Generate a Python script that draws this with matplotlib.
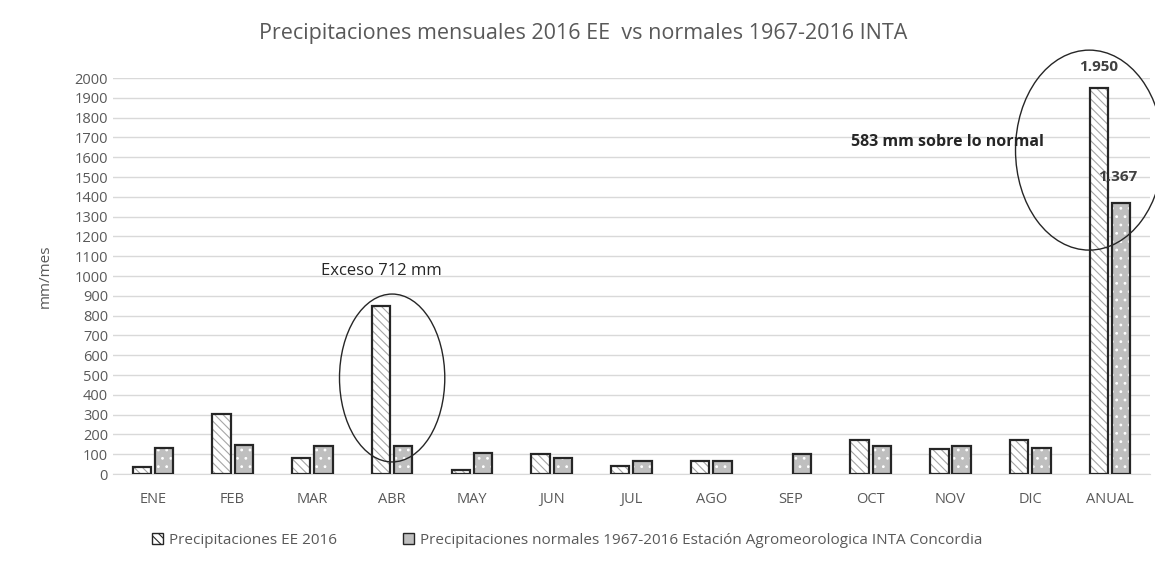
import matplotlib
matplotlib.use('Agg')
import matplotlib.pyplot as plt
from matplotlib.patches import Ellipse, Patch
import numpy as np

# Datos
meses = ['ENE', 'FEB', 'MAR', 'ABR', 'MAY', 'JUN', 'JUL', 'AGO', 'SEP', 'OCT', 'NOV', 'DIC', 'ANUAL']
lluvia_2016 = [34, 301, 82, 849, 19, 99, 42, 67, 0, 172, 125, 172, 1950]
lluvia_normal = [131, 148, 140, 140, 108, 82, 67, 67, 99, 140, 140, 131, 1367]

plt.rcParams['font.family'] = ['Open Sans', 'DejaVu Sans']
plt.rcParams['hatch.linewidth'] = 0.8

fig = plt.figure(figsize=(11.55, 5.66), dpi=100)
ax = fig.add_axes([0.0978, 0.1625, 0.8978, 0.6996])

x = np.arange(len(meses))
ancho = 0.23
sep = 0.025
x1 = x - ancho / 2 - sep
x2 = x + ancho / 2 + sep

# relleno con trama
ax.bar(x1, lluvia_2016, ancho, color='white', hatch='\\\\\\\\', edgecolor='#a6a6a6', linewidth=0, zorder=2)
ax.bar(x2, lluvia_normal, ancho, color='#bfbfbf', hatch='..', edgecolor='white', linewidth=0, zorder=2)
# contorno negro
b1 = ax.bar(x1, lluvia_2016, ancho, fill=False, edgecolor='#262626', linewidth=1.6, zorder=3)
ax.bar(x2, lluvia_normal, ancho, fill=False, edgecolor='#262626', linewidth=1.6, zorder=3)
for r, v in zip(b1, lluvia_2016):
    if v == 0:
        r.set_visible(False)

ax.set_xlim(-0.5, len(meses) - 0.5)
ax.set_ylim(0, 2000)
ax.set_yticks(range(0, 2001, 100))
ax.set_xticks(x)
ax.set_xticklabels(meses)
ax.tick_params(axis='both', length=0, labelsize=10.5, colors='#595959')
ax.tick_params(axis='x', pad=13)
ax.grid(axis='y', color='#d9d9d9', linewidth=1)
ax.set_axisbelow(True)
for s in ['top', 'right', 'left']:
    ax.spines[s].set_visible(False)
ax.spines['bottom'].set_color('#d9d9d9')
ax.set_ylabel('mm/mes', fontsize=11, color='#595959', labelpad=16)

fig.suptitle('Precipitaciones mensuales 2016 EE  vs normales 1967-2016 INTA',
             fontsize=15.5, color='#595959', x=0.505, y=0.96)

# anotaciones
ax.text(2.87, 1025, 'Exceso 712 mm', ha='center', va='center', fontsize=12, color='#262626')
ax.text(9.96, 1677, '583 mm sobre lo normal', ha='center', va='center', fontsize=11.5,
        fontweight='bold', color='#262626')
ax.text(x1[-1], 2020, '1.950', ha='center', va='bottom', fontsize=11, fontweight='bold', color='#404040')
ax.text(x2[-1] - 0.04, 1500, '1.367', ha='center', va='center', fontsize=11, fontweight='bold', color='#404040')

e1 = Ellipse((3.0, 485), 1.32, 848, fill=False, edgecolor='#262626', linewidth=1, zorder=4)
e2 = Ellipse((11.74, 1636), 1.85, 1010, fill=False, edgecolor='#262626', linewidth=1, zorder=4,
             clip_on=False)
ax.add_patch(e1)
ax.add_patch(e2)

handles = [
    Patch(facecolor='white', edgecolor='#262626', hatch='\\\\\\\\', linewidth=1),
    Patch(facecolor='#bfbfbf', edgecolor='#262626', linewidth=1),
]
fig.legend(handles, ['Precipitaciones EE 2016',
                     'Precipitaciones normales 1967-2016 Estación Agromeorologica INTA Concordia'],
           loc='center left', bbox_to_anchor=(0.12, 0.045), ncol=2, frameon=False,
           fontsize=11, labelcolor='#595959', handlelength=0.7, handleheight=0.7,
           handletextpad=0.4, columnspacing=4.3)

fig.savefig('out.png', dpi=100)
